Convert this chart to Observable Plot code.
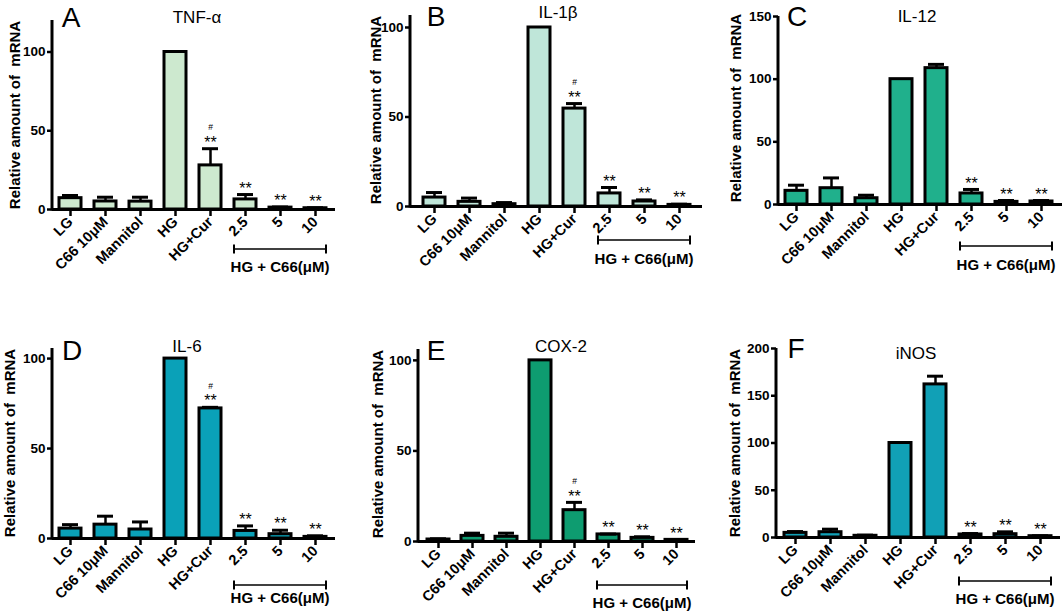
<!DOCTYPE html>
<html>
<head>
<meta charset="utf-8">
<script src="https://cdn.jsdelivr.net/npm/d3@7"></script>
<script src="https://cdn.jsdelivr.net/npm/@observablehq/plot@0.6"></script>
<style>
html,body{margin:0;padding:0;background:#fff;}
#fig{position:relative;width:1063px;height:611px;overflow:hidden;background:#fff;}
#fig svg{position:absolute;}
</style>
</head>
<body>
<div id="fig"></div>
<script>
// ---- data ----
const categories = ["LG", "C66 10μM", "Mannitol", "HG", "HG+Cur", "2.5", "5", "10"];
const groupLabel = "HG + C66(μM)";
const yLabel = "Relative amount of  mRNA";

const tnfMean = [7.2, 5.1, 5.0, 100, 28.0, 6.4, 1.2, 0.8];
const tnfErr  = [8.9, 7.8, 7.8, 100, 38.6, 9.5, 1.6, 1.1];
const tnfStars = ["", "", "", "", "**", "**", "**", "**"];
const tnfHash  = ["", "", "", "", "#", "", "", ""];

const il1Mean = [5.0, 2.6, 1.3, 100, 54.7, 7.3, 2.8, 0.9];
const il1Err  = [7.8, 4.7, 2.2, 100, 57.5, 10.6, 3.7, 1.3];
const il1Stars = ["", "", "", "", "**", "**", "**", "**"];
const il1Hash  = ["", "", "", "", "#", "", "", ""];

const il12Mean = [10.9, 13.0, 5.0, 100, 108.8, 8.8, 2.1, 2.4];
const il12Err  = [15.4, 21.2, 7.4, 100, 111.8, 12.0, 3.2, 3.2];
const il12Stars = ["", "", "", "", "", "**", "**", "**"];
const il12Hash  = ["", "", "", "", "", "", "", ""];

const il6Mean = [5.5, 7.7, 5.0, 100, 72.3, 4.2, 2.4, 0.9];
const il6Err  = [7.7, 12.4, 9.2, 100, 72.9, 7.0, 4.6, 1.5];
const il6Stars = ["", "", "", "", "**", "**", "**", "**"];
const il6Hash  = ["", "", "", "", "#", "", "", ""];

const coxMean = [1.1, 3.1, 2.6, 100, 17.3, 3.9, 2.0, 0.9];
const coxErr  = [1.5, 4.6, 4.6, 100, 21.6, 4.1, 2.6, 1.1];
const coxStars = ["", "", "", "", "**", "**", "**", "**"];
const coxHash  = ["", "", "", "", "#", "", "", ""];

const inosMean = [4.9, 5.6, 1.8, 100, 162.0, 3.2, 3.5, 1.4];
const inosErr  = [6.3, 8.8, 2.5, 100, 170.7, 4.2, 6.0, 1.8];
const inosStars = ["", "", "", "", "", "**", "**", "**"];
const inosHash  = ["", "", "", "", "", "", "", ""];

// ---- layout / style per panel ----
const panels = [
  {letter:"A", gene:"TNF-α", color:"#cde9cf", means:tnfMean, errs:tnfErr, stars:tnfStars, hashes:tnfHash,
   yMax:120, yTicks:[0,50,100], box:{left:0,top:0,width:350,height:290}, axisX:52, axisEnd:335, yTop:20, y0:209,
   first:69, last:317, letterPos:[71,27], titlePos:[197,23], ylabPos:[14.5,115], bracket:40, group:57},
  {letter:"B", gene:"IL-1β", color:"#bfe6d9", means:il1Mean, errs:il1Err, stars:il1Stars, hashes:il1Hash,
   yMax:106.7, yTicks:[0,50,100], box:{left:350,top:0,width:355,height:290}, axisX:410, axisEnd:702, yTop:15, y0:206,
   first:433, last:680, letterPos:[436,26], titlePos:[558,18], ylabPos:[375.5,110], bracket:34, group:52},
  {letter:"C", gene:"IL-12", color:"#20b08c", means:il12Mean, errs:il12Err, stars:il12Stars, hashes:il12Hash,
   yMax:150, yTicks:[0,50,100,150], box:{left:705,top:0,width:358,height:290}, axisX:778, axisEnd:1062, yTop:16, y0:204,
   first:796, last:1042, letterPos:[797,26], titlePos:[917,22], ylabPos:[735.5,108], bracket:42, group:60},
  {letter:"D", gene:"IL-6", color:"#0aa1b8", means:il6Mean, errs:il6Err, stars:il6Stars, hashes:il6Hash,
   yMax:105.6, yTicks:[0,50,100], box:{left:0,top:300,width:350,height:311}, axisX:52, axisEnd:335, yTop:348, y0:538,
   first:69, last:316, letterPos:[72,360], titlePos:[187,352], ylabPos:[9,443], bracket:47, group:59},
  {letter:"E", gene:"COX-2", color:"#0e9c70", means:coxMean, errs:coxErr, stars:coxStars, hashes:coxHash,
   yMax:106, yTicks:[0,50,100], box:{left:350,top:300,width:355,height:311}, axisX:418, axisEnd:695, yTop:349, y0:541,
   first:436, last:677, letterPos:[436,360], titlePos:[561,352], ylabPos:[377,444], bracket:44, group:61},
  {letter:"F", gene:"iNOS", color:"#11a0b6", means:inosMean, errs:inosErr, stars:inosStars, hashes:inosHash,
   yMax:200, yTicks:[0,50,100,150,200], box:{left:705,top:300,width:358,height:311}, axisX:776, axisEnd:1060, yTop:348, y0:537,
   first:793, last:1042, letterPos:[796,358], titlePos:[916,359], ylabPos:[734,443], bracket:44, group:61}
];

const FONT = "'Liberation Sans', Arial, Helvetica, sans-serif";
const fig = document.getElementById("fig");

function drawPanel(p) {
  const rows = categories.map((c, i) => ({cat: c, val: p.means[i], err: p.errs[i], star: p.stars[i], hash: p.hashes[i]}));
  const withErr = rows.filter(d => d.err > d.val);
  const {left, top, width, height} = p.box;
  const marginLeft = p.axisX - left;
  const marginRight = left + width - p.axisEnd;
  const marginTop = p.yTop - top;
  const marginBottom = top + height - p.y0;
  const step = (p.last - p.first) / (categories.length - 1);

  const chart = Plot.plot({
    width, height, marginLeft, marginRight, marginTop, marginBottom,
    style: {fontFamily: FONT, fontWeight: "bold", fontSize: "14px", color: "black", background: "transparent", overflow: "visible"},
    x: {type: "band", domain: categories, range: [p.first - step / 2 - left, p.last + step / 2 - left],
        paddingInner: 0.36, paddingOuter: 0.18, label: null, axis: null},
    y: {domain: [0, p.yMax], label: null, axis: null},
    marks: [
      Plot.barY(rows, {x: "cat", y: "val", fill: p.color, stroke: "black", strokeWidth: 3}),
      Plot.ruleX(withErr, {x: "cat", y1: "val", y2: "err", stroke: "black", strokeWidth: 2.5}),
      Plot.tickY(withErr, {x: "cat", y: "err", stroke: "black", strokeWidth: 3, inset: 3}),
      Plot.text(rows.filter(d => d.star), {x: "cat", y: "err", text: "star", dy: -6, fontSize: 16, fontWeight: "normal", fill: "black"}),
      Plot.text(rows.filter(d => d.hash), {x: "cat", y: "err", text: "hash", dy: -21, fontSize: 8.5, fontWeight: "normal", fill: "black"}),
      Plot.ruleY([0], {stroke: "black", strokeWidth: 3}),
      Plot.axisY({ticks: p.yTicks, tickSize: 5, strokeWidth: 2.5, tickPadding: 2, fontSize: 13.5, label: null}),
      Plot.axisX({tickRotate: -45, tickSize: 7, strokeWidth: 2.5, tickPadding: 3, fontSize: 14.5, label: null})
    ]
  });

  const svg = d3.select(chart);
  const x = chart.scale("x"), y = chart.scale("y");
  const y0 = y.apply(0);

  // y axis line
  svg.append("line")
    .attr("x1", marginLeft).attr("x2", marginLeft)
    .attr("y1", y0 + 1.5).attr("y2", y.apply(p.yMax))
    .attr("stroke", "black").attr("stroke-width", 3);

  // bracket under the C66 dose groups
  const bx1 = x.apply("2.5"), bx2 = x.apply("10") + x.bandwidth;
  const by = y0 + p.bracket;
  const g = svg.append("g").attr("stroke", "black");
  g.append("line").attr("x1", bx1).attr("x2", bx2).attr("y1", by).attr("y2", by).attr("stroke-width", 1.6);
  g.append("line").attr("x1", bx1).attr("x2", bx1).attr("y1", by - 4.5).attr("y2", by + 4.5).attr("stroke-width", 2);
  g.append("line").attr("x1", bx2).attr("x2", bx2).attr("y1", by - 4.5).attr("y2", by + 4.5).attr("stroke-width", 2);
  svg.append("text")
    .attr("x", (bx1 + bx2) / 2).attr("y", y0 + p.group)
    .attr("text-anchor", "middle").attr("dominant-baseline", "central")
    .attr("font-family", FONT).attr("font-weight", "bold").attr("font-size", 15)
    .attr("fill", "black").text(groupLabel);

  // panel letter
  svg.append("text")
    .attr("x", p.letterPos[0] - left).attr("y", p.letterPos[1] - top)
    .attr("font-family", FONT).attr("font-weight", "normal").attr("font-size", 28)
    .attr("fill", "black").text(p.letter);

  // gene title
  svg.append("text")
    .attr("x", p.titlePos[0] - left).attr("y", p.titlePos[1] - top)
    .attr("text-anchor", "middle")
    .attr("font-family", FONT).attr("font-weight", "normal").attr("font-size", 17)
    .attr("fill", "black").text(p.gene);

  // y axis title
  svg.append("text")
    .attr("transform", `translate(${p.ylabPos[0] - left},${p.ylabPos[1] - top}) rotate(-90)`)
    .attr("text-anchor", "middle").attr("dominant-baseline", "central")
    .attr("font-family", FONT).attr("font-weight", "bold").attr("font-size", 15)
    .style("white-space", "pre")
    .attr("fill", "black").text(yLabel);

  chart.style.left = left + "px";
  chart.style.top = top + "px";
  fig.appendChild(chart);
}

panels.forEach(drawPanel);
</script>
</body>
</html>
